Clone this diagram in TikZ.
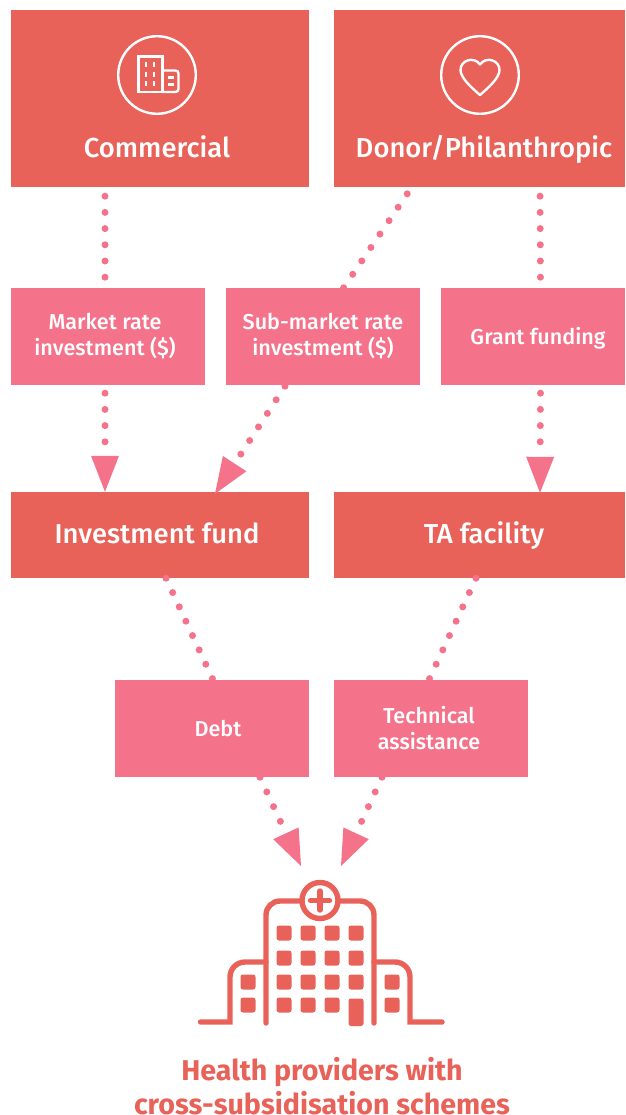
\documentclass[tikz,border=0pt]{standalone}
\usepackage{fontspec}
\setmainfont{Fira Sans}[BoldFont={Fira Sans Medium}]
\newfontfamily\capfont{Fira Sans}
\usetikzlibrary{arrows.meta,calc}
\definecolor{coral}{HTML}{E96259}
\definecolor{rose}{HTML}{F5728B}
\newcommand{\nudge}[1]{\hspace*{#1pt}}
\tikzset{
  big/.style={fill=coral,draw=none,inner sep=0pt,text=white,align=center,text height=20pt,text depth=4pt,font=\bfseries\fontsize{27.4}{27.4}\selectfont},
  small/.style={fill=rose,draw=none,inner sep=0pt,text=white,align=center,minimum width=194pt,minimum height=97pt,font=\bfseries\fontsize{21.6}{26}\selectfont},
  single/.style={text height=15pt,text depth=0pt},
  biglabel/.style={text=white,inner sep=0pt,anchor=base,font=\bfseries\fontsize{27.4}{27.4}\selectfont},
  dots/.style={draw=rose,line width=7pt,line cap=round,dash pattern=on 0pt off 16.2pt},
  tip/.style={dots,-{Triangle[length=36pt,width=28pt,fill=rose,line width=0pt]}},
  icon/.style={draw=white,line width=2.4pt,fill=none},
  iconbar/.style={draw=white,line width=2.4pt},
  hosp/.style={draw=coral,line width=5.4pt,line cap=round,fill=none},
  win/.style={fill=coral,draw=none,rounded corners=2.5pt,minimum size=15pt,inner sep=0pt}
}
\begin{document}
\begin{tikzpicture}[x=1pt,y=-1pt]
\useasboundingbox (0,0) rectangle (625,1115);
% top boxes
\node[fill=coral,inner sep=0pt,minimum width=298pt,minimum height=177pt] (commercial) at (160,98.5) {};
\node[fill=coral,inner sep=0pt,minimum width=291pt,minimum height=177pt] (donor) at (479.5,98.5) {};
\node[biglabel] (commerciallabel) at (157,158) {Commercial};
\node[biglabel] (donorlabel) at (484,158) {Donor/Philanthropic};
% small boxes
\node[small] (market) at (108,336.5) {\nudge{-6}Market rate\\\nudge{-6}investment (\$)};
\node[small] (sub) at (323,336.5) {Sub-market rate\\investment (\$)};
\node[small,single,minimum width=184pt] (grant) at (533,336.5) {\nudge{10}Grant funding};
% middle boxes
\node[big,minimum width=298pt,minimum height=86pt] (invest) at (160,535) {\nudge{-6}Investment fund};
\node[big,minimum width=291pt,minimum height=86pt] (ta) at (479.5,535) {\nudge{9}TA facility};
% lower boxes
\node[small,single] (debt) at (212,728.5) {\nudge{12}Debt};
\node[small] (tech) at (431,728.5) {\nudge{-4}Technical\\\nudge{-4}assistance};
% free ends on the hospital
\coordinate (hospL) at (301,866);
\coordinate (hospR) at (341,866);
% connectors
\draw[dots,shorten <=9pt,shorten >=10pt] ([xshift=-55pt]commercial.south) -- ([xshift=-3pt]market.north);
\draw[dots,shorten <=8pt] ([xshift=-67.8pt]donor.south) -- ([xshift=20.6pt]sub.north);
\draw[dots,shorten <=9pt,shorten >=10pt] ([xshift=60.5pt]donor.south) -- ([xshift=7.5pt]grant.north);
\draw[tip,shorten <=8pt] ([xshift=-3pt]market.south) -- ([xshift=-55pt]invest.north);
\draw[tip] ([xshift=-38pt,yshift=-1pt]sub.south) -- ([xshift=55pt,yshift=-2pt]invest.north);
\draw[tip,shorten <=8pt] ([xshift=7.5pt]grant.south) -- ([xshift=60.5pt,yshift=-1pt]ta.north);
\draw[dots,dash pattern=on 0pt off 15.8pt] ([xshift=6pt]invest.south) -- ([xshift=1pt]debt.north);
\draw[dots,dash pattern=on 0pt off 15.8pt] ([xshift=-3.5pt]ta.south) -- ([xshift=-2pt]tech.north);
\draw[tip] ([xshift=48pt]debt.south) -- (hospL);
\draw[tip] ([xshift=-49pt]tech.south) -- (hospR);
% commercial icon
\draw[icon] (157,75) circle (38.8pt);
\draw[icon] (138.5,92) -- (138.5,56.5) -- (162.5,56.5) -- (162.5,92) -- cycle;
\draw[icon,rounded corners=3pt] (162.5,70.5) -- (178.5,70.5) -- (178.5,92) -- (162.5,92);
\foreach \cx in {146,154}\foreach \cy in {64.5,74.5,84}
  \draw[iconbar] (\cx,\cy-2.5) -- (\cx,\cy+2.5);
\foreach \cy in {77.7,84.7}
  \draw[iconbar] (167.5,\cy) -- (173.5,\cy);
% donor icon
\draw[icon,line join=round] (480,95)
  .. controls (472,88) and (460.5,78) .. (460.5,70)
  .. controls (460.5,60) and (474,56) .. (480,64.5)
  .. controls (486,56) and (499.5,60) .. (499.5,70)
  .. controls (499.5,78) and (488,88) .. (480,95) -- cycle;
\draw[icon] (480,75) circle (38.8pt);
% hospital
\draw[hosp] (266,1023) -- (266,915) arc[start angle=180,end angle=90,x radius=14pt,y radius=14pt] -- (301,901);
\draw[hosp] (374,1023) -- (374,915) arc[start angle=0,end angle=90,x radius=14pt,y radius=14pt] -- (339,901);
\draw[hosp] (320,900.5) circle (18pt);
\draw[hosp] (310.5,900.5) -- (329.5,900.5) (320,891) -- (320,910);
\draw[hosp] (200.5,1022) -- (230,1022) -- (230,977) arc[start angle=180,end angle=90,x radius=15pt,y radius=15pt] -- (266,962);
\draw[hosp] (442,1022) -- (410,1022) -- (410,977) arc[start angle=0,end angle=90,x radius=15pt,y radius=15pt] -- (374,962);
\foreach \wx in {284,308,332,356}\foreach \wy in {933,958,982}
  \node[win] at (\wx,\wy) {};
\foreach \wx in {284,308,332}
  \node[win] at (\wx,1005) {};
\fill[coral,rounded corners=2.5pt] (348.5,998.5) rectangle (363.5,1026);
\foreach \wx in {248,392}\foreach \wy in {982,1005}
  \node[win] at (\wx,\wy) {};
% caption
\node[text=coral,inner sep=0pt,font=\capfont\bfseries\fontsize{28.6}{33.5}\selectfont,align=center] (caption) at (322,1086) {Health providers with\\cross-subsidisation schemes};
\end{tikzpicture}
\end{document}
